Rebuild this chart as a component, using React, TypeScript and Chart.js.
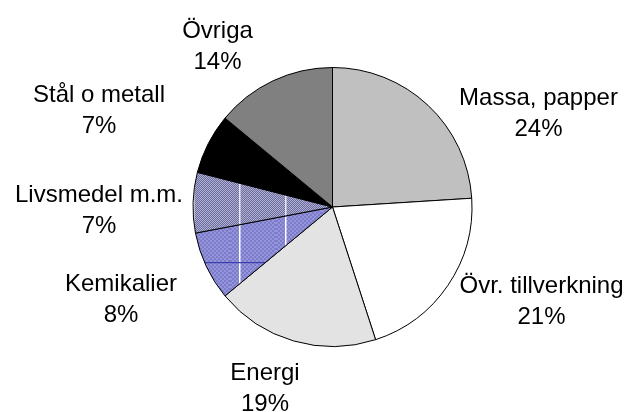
import React, { useEffect, useRef } from "react";
import { Chart, registerables } from "chart.js";

Chart.register(...registerables);

const categories = [
  "Massa, papper",
  "Övr. tillverkning",
  "Energi",
  "Kemikalier",
  "Livsmedel m.m.",
  "Stål o metall",
  "Övriga",
];
const shares = [24, 21, 19, 8, 7, 7, 14];

// label offsets from pie centre: [dx, dy of first baseline]
const labelOffsets: [number, number][] = [
  [206, -102],
  [209, 86],
  [-67.5, 173],
  [-211.5, 84],
  [-233.5, -5],
  [-233.5, -105],
  [-115, -169],
];

function makeKemiPattern(ctx: CanvasRenderingContext2D): CanvasPattern | string {
  const c = document.createElement("canvas");
  c.width = 46;
  c.height = 92;
  const g = c.getContext("2d");
  if (!g) return "#8585cc";
  for (let y = 0; y < 92; y += 2) {
    for (let x = 0; x < 46; x += 2) {
      g.fillStyle = ((x + y) / 2) % 2 === 0 ? "#7c7cc8" : "#9494dc";
      g.fillRect(x, y, 2, 2);
    }
  }
  g.fillStyle = "#ffffff";
  g.fillRect(239 % 46, 0, 1.5, 92);
  g.fillStyle = "#3c3cae";
  g.fillRect(0, 262 % 92, 46, 1.2);
  return ctx.createPattern(c, "repeat") || "#8585cc";
}

function makeLivsPattern(ctx: CanvasRenderingContext2D): CanvasPattern | string {
  const c = document.createElement("canvas");
  c.width = 46;
  c.height = 46;
  const g = c.getContext("2d");
  if (!g) return "#8c8cb6";
  for (let y = 0; y < 46; y++) {
    for (let x = 0; x < 46; x++) {
      g.fillStyle = (x + y) % 2 === 0 ? "#b0b0d6" : "#6c6c9a";
      g.fillRect(x, y, 1, 1);
    }
  }
  g.fillStyle = "#e8e8f0";
  g.fillRect(239 % 46, 0, 1.5, 46);
  return ctx.createPattern(c, "repeat") || "#8c8cb6";
}

const labelPlugin = {
  id: "outerLabels",
  afterDraw(chart: any) {
    const ctx: CanvasRenderingContext2D = chart.ctx;
    const meta = chart.getDatasetMeta(0);
    const data: number[] = chart.data.datasets[0].data;
    const total = data.reduce((a, b) => a + b, 0);
    ctx.save();
    ctx.font = '24px "Liberation Sans", Arial, sans-serif';
    ctx.fillStyle = "#000000";
    ctx.textAlign = "center";
    ctx.textBaseline = "alphabetic";
    meta.data.forEach((arc: any, i: number) => {
      const { x, y } = arc.getProps(["x", "y"], true);
      const [dx, dy] = labelOffsets[i];
      const lx = x + dx;
      const ly = y + dy;
      const pct = Math.round((data[i] / total) * 100) + "%";
      ctx.fillText(String(chart.data.labels[i]), lx, ly);
      ctx.fillText(pct, lx, ly + 31);
    });
    ctx.restore();
  },
};

export default function App() {
  const ref = useRef<HTMLCanvasElement | null>(null);
  useEffect(() => {
    document.body.style.margin = "0";
    const canvas = ref.current;
    if (!canvas) return;
    const ctx = canvas.getContext("2d");
    if (!ctx) return;
    const colors = [
      "#c0c0c0",
      "#ffffff",
      "#e3e3e3",
      makeKemiPattern(ctx),
      makeLivsPattern(ctx),
      "#000000",
      "#808080",
    ];
    const chart = new Chart(canvas, {
      type: "pie",
      data: {
        labels: categories,
        datasets: [
          {
            data: shares,
            backgroundColor: colors as any,
            borderColor: "#000000",
            borderWidth: 1,
          },
        ],
      },
      options: {
        responsive: false,
        animation: false,
        layout: { padding: { left: 192, right: 156, top: 67, bottom: 65 } },
        plugins: {
          legend: { display: false },
          tooltip: { enabled: false },
        },
      },
      plugins: [labelPlugin],
    });
    return () => chart.destroy();
  }, []);
  return (
    <div style={{ width: 629, height: 412, background: "#ffffff" }}>
      <canvas ref={ref} width={629} height={412} style={{ display: "block" }} />
    </div>
  );
}
